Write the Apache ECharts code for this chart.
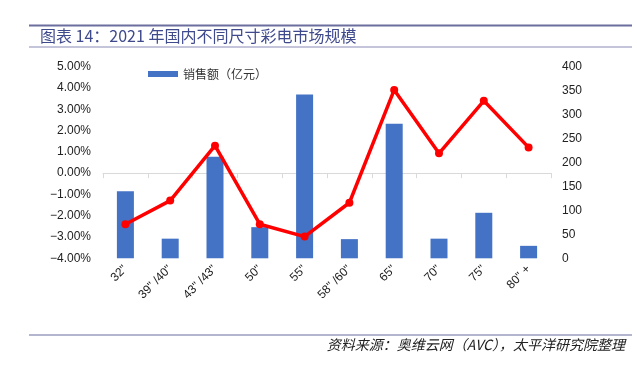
<!DOCTYPE html>
<html>
<head>
<meta charset="utf-8">
<script src="https://cdn.jsdelivr.net/npm/echarts@6/dist/echarts.min.js"></script>
<style>
  html, body { margin: 0; padding: 0; background: #fff; }
  #chart { width: 637px; height: 367px; }
</style>
</head>
<body>
<div id="chart"></div>
<script>
  // 尺寸分类
  const sizes = ['32"', '39" /40"', '43" /43"', '50"', '55"', '58" /60"', '65"', '70"', '75"', '80" +'];
  // 销售额（亿元）- 右轴
  const sales = [140, 41, 212, 65, 342, 40, 281, 41, 95, 26];
  // 同比增速（%）- 左轴
  const growth = [-2.40, -1.29, 1.29, -2.40, -2.98, -1.39, 3.91, 0.93, 3.40, 1.21];

  const chart = echarts.init(document.getElementById('chart'));
  const font = '"Liberation Sans", Arial, "Noto Sans CJK SC", sans-serif';

  const option = {
    animation: false,
    textStyle: { fontFamily: font },
    graphic: [
      { type: 'rect', shape: { x: 29, y: 24.5, width: 603, height: 2 }, style: { fill: '#6b6e9e' } },
      { type: 'rect', shape: { x: 29, y: 46.5, width: 603, height: 1 }, style: { fill: '#8a8cb5' } },
      { type: 'rect', shape: { x: 29, y: 334, width: 603, height: 2 }, style: { fill: '#b4b6cf' } },
      {
        type: 'text', left: 40, top: 28,
        style: {
          text: '图表 14：2021 年国内不同尺寸彩电市场规模',
          fill: '#3f4a8c', font: '16px "Noto Sans CJK SC", sans-serif'
        }
      },
      {
        type: 'text', right: 12, top: 338,
        style: {
          text: '资料来源：奥维云网（AVC），太平洋研究院整理',
          fill: '#222', font: 'italic 14px "Noto Sans CJK SC", sans-serif'
        }
      }
    ],
    legend: {
      left: 143, top: 63,
      itemWidth: 30, itemHeight: 6,
      itemGap: 4,
      data: [{ name: '销售额（亿元）', icon: 'rect' }],
      textStyle: { color: '#333', fontSize: 12, fontFamily: '"Noto Sans CJK SC", sans-serif' }
    },
    grid: { left: 103, right: 86, top: 66.7, bottom: 108.7 },
    xAxis: {
      type: 'category',
      data: sizes,
      axisLine: { lineStyle: { color: '#d9d9d9' } },
      axisTick: { show: true, length: 5, lineStyle: { color: '#d9d9d9' } },
      axisLabel: { rotate: 45, color: '#222', fontSize: 12, margin: 9, interval: 0 }
    },
    yAxis: [
      {
        type: 'value', position: 'left',
        min: -4, max: 5, interval: 1,
        axisLine: { show: false }, axisTick: { show: false },
        splitLine: { show: false },
        axisLabel: {
          color: '#222', fontSize: 12, margin: 12,
          formatter: v => v.toFixed(2).replace('-', '−') + '%'
        }
      },
      {
        type: 'value', position: 'right',
        min: 0, max: 400, interval: 50,
        axisLine: { show: false }, axisTick: { show: false },
        splitLine: { show: false },
        axisLabel: { color: '#222', fontSize: 12, margin: 11 }
      }
    ],
    series: [
      {
        name: '销售额（亿元）',
        type: 'bar',
        yAxisIndex: 1,
        barWidth: 17,
        itemStyle: { color: '#4472c4' },
        data: sales
      },
      {
        name: '同比增速',
        type: 'line',
        yAxisIndex: 0,
        symbol: 'circle',
        symbolSize: 8,
        lineStyle: { color: '#ff0000', width: 3.5 },
        itemStyle: { color: '#ff0000' },
        data: growth
      }
    ]
  };

  chart.setOption(option);
</script>
</body>
</html>
